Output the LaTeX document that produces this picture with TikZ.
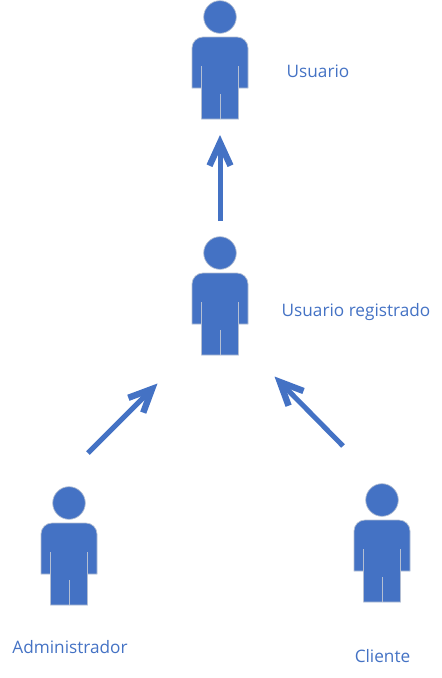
\documentclass[tikz,border=0pt]{standalone}
\usepackage{fontspec}
\setmainfont{Open Sans}
\usetikzlibrary{arrows.meta}
\definecolor{figblue}{HTML}{4472C4}
\definecolor{figedge}{HTML}{B4BFD3}
\tikzset{
	actor/.pic={
		\filldraw [fill=figblue, draw=figedge, line width=0.7] (0, 0) circle (16.3);
		\filldraw [fill=figblue, draw=figedge, line width=0.7] (-18.5, 102) -- (-18.5, 71) -- (-28, 71) -- (-28, 31) arc [start angle=180, end angle=270, radius=11] -- (17, 20) arc [start angle=270, end angle=360, radius=11] -- (28, 71) -- (18.5, 71) -- (18.5, 102) -- cycle;
		\draw [figedge, line width=0.7] (-18.5, 49) -- (-18.5, 71);
		\draw [figedge, line width=0.7] (18.5, 49) -- (18.5, 71);
		\draw [figedge, line width=0.7] (0, 77) -- (0, 102);
	},
	flecha/.style={-{Straight Barb[length=23, width=21, line width=6.4, line join=miter, line cap=butt]}, figblue, line width=5},
	rotulo/.style={text=figblue, font=\fontsize{17.2}{20}\selectfont, inner sep=0}
}
\begin{document}
\begin{tikzpicture}[x=1pt, y=-1pt]
	\useasboundingbox (0, 0) rectangle (442, 678);

	\pic at (220, 17) {actor};
	\pic at (220, 253) {actor};
	\pic at (69, 503) {actor};
	\pic at (382, 500) {actor};

	\node [rotulo] (usuario) at (318, 71.5) {Usuario};
	\node [rotulo] (registrado) at (356, 312) {Usuario registrado};
	\node [rotulo] (administrador) at (70, 647) {Administrador};
	\node [rotulo] (cliente) at (382.5, 656) {Cliente};

	\coordinate (a1) at (220, 221);
	\coordinate (b1) at (220, 135);
	\coordinate (a2) at (88, 453);
	\coordinate (b2) at (157.5, 383.5);
	\coordinate (a3) at (343, 446);
	\coordinate (b3) at (274.5, 376.5);

	\draw [flecha] (a1) -- (b1);
	\draw [flecha] (a2) -- (b2);
	\draw [flecha] (a3) -- (b3);
\end{tikzpicture}
\end{document}
